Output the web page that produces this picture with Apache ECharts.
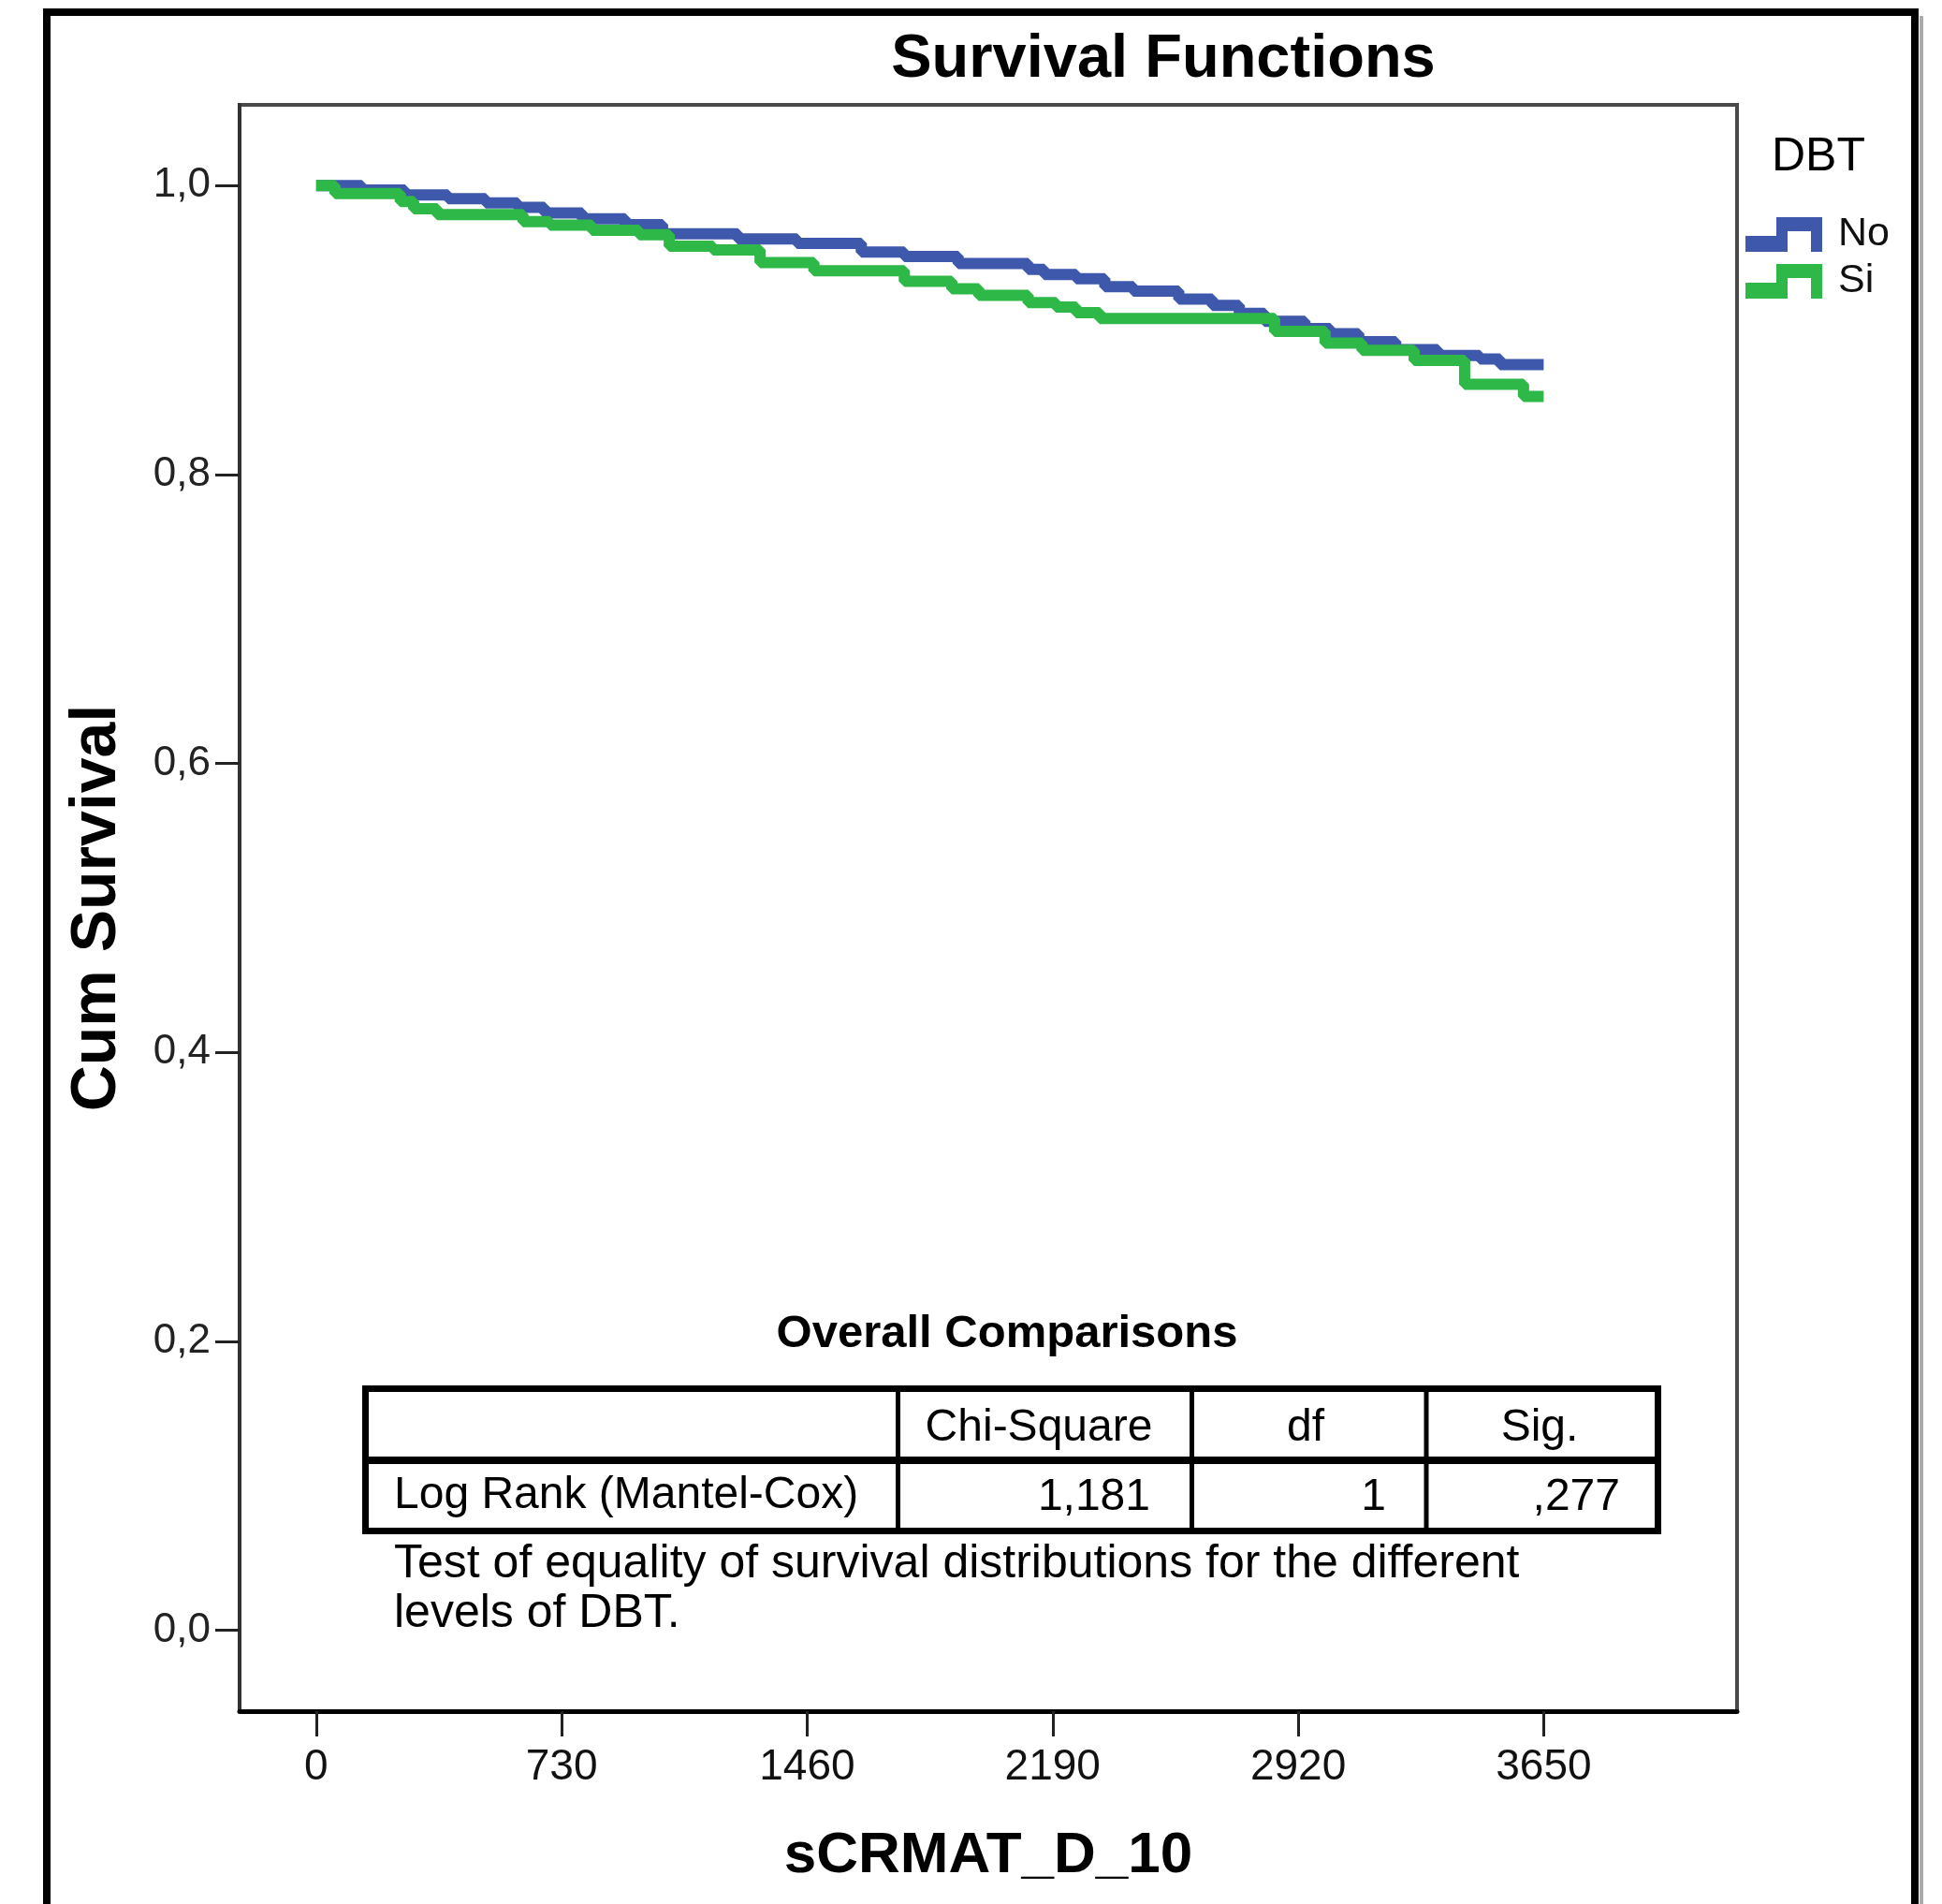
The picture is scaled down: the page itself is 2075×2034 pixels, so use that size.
<!DOCTYPE html>
<html><head><meta charset="utf-8">
<script src="https://cdn.jsdelivr.net/npm/echarts@6/dist/echarts.min.js"></script>
<style>html,body{margin:0;padding:0;background:#fff}#c{width:2075px;height:2034px}</style>
</head><body><div id="c"></div>
<script>
// ---- data ----
const groups = ['No', 'Si'];
const noDays = [0,136,264,392,504,599,679,791,919,1030,1254,1430,1621,1749,1909,2117,2165,2260,2345,2430,2565,2665,2745,2820,2940,3015,3100,3210,3335,3460,3520,3650];
const noSurv = [1.000,0.997,0.9935,0.991,0.988,0.985,0.981,0.977,0.973,0.9666,0.963,0.960,0.954,0.951,0.946,0.942,0.9385,0.9355,0.930,0.927,0.9215,0.917,0.9115,0.906,0.901,0.8975,0.892,0.8865,0.8824,0.880,0.876,0.876];
const siDays = [0,56,250,290,360,615,695,820,960,1050,1180,1320,1480,1749,1890,1970,2117,2200,2260,2330,2850,3000,3110,3265,3415,3590,3650];
const siSurv = [1.000,0.9945,0.989,0.984,0.980,0.975,0.9727,0.969,0.966,0.958,0.9554,0.9467,0.941,0.9338,0.9286,0.924,0.919,0.916,0.912,0.908,0.899,0.891,0.886,0.879,0.8625,0.854,0.854];
const xTicks = [0,730,1460,2190,2920,3650];
const yTicks = [0,0.2,0.4,0.6,0.8,1.0];
const tableHeader = ['Chi-Square','df','Sig.'];
const tableRowLabel = 'Log Rank (Mantel-Cox)';
const tableRow = ['1,181','1',',277'];
const footnote = ['Test of equality of survival distributions for the different','levels of DBT.'];

const FONT = '"Liberation Sans", Arial, sans-serif';
const colors = ['#3E58AC', '#2EB848'];
const legendIcon = 'path://M0,20L33,20L33,0L82,0L82,37L70,37L70,15L45,15L45,37L0,37Z';

function zip(a, b) { return a.map((v, i) => [v, b[i]]); }
function txt(text, x, y, size, align, bold, vAlign) {
  const font = (bold ? 'bold ' : '') + size + 'px ' + FONT;
  return { type: 'text', x: x, y: y, silent: true,
    style: { text: text, font: font, fill: '#000', textAlign: align, align: align,
      textVerticalAlign: vAlign || 'middle', verticalAlign: vAlign || 'middle' } };
}
function hline(x1, x2, y, w) { return { type: 'line', silent: true, shape: { x1: x1, y1: y, x2: x2, y2: y }, style: { stroke: '#000', lineWidth: w } }; }
function vline(x, y1, y2, w) { return { type: 'line', silent: true, shape: { x1: x, y1: y1, x2: x, y2: y2 }, style: { stroke: '#000', lineWidth: w } }; }

const chart = echarts.init(document.getElementById('c'), null, { renderer: 'canvas' });

const tl = 390.5, tr = 1771.5, tt = 1483.5, tb = 1635.5, tmid = 1560;
const cols = [959.5, 1273.5, 1524];
const graphics = [
  { type: 'rect', silent: true, shape: { x: 50, y: 13, width: 1996, height: 2100 }, style: { fill: 'none', stroke: '#000', lineWidth: 8 } },
  { type: 'line', silent: true, shape: { x1: 2053, y1: 17, x2: 2053, y2: 2034 }, style: { stroke: '#aaa', lineWidth: 4 } },
  txt('Survival Functions', 1243, 64, 65, 'center', true),
  txt('DBT', 1893, 168, 50, 'left', false),
  txt('Overall Comparisons', 1076, 1425, 49, 'center', true),
  { type: 'rect', silent: true, shape: { x: tl, y: tt, width: tr - tl, height: tb - tt }, style: { fill: 'none', stroke: '#000', lineWidth: 7 } },
  hline(tl, tr, tmid, 8),
  vline(cols[0], tt, tb, 5), vline(cols[1], tt, tb, 5), vline(cols[2], tt, tb, 5),
  txt(tableHeader[0], 1110, 1526, 48, 'center', false),
  txt(tableHeader[1], 1395, 1526, 48, 'center', false),
  txt(tableHeader[2], 1645, 1526, 48, 'center', false),
  txt(tableRowLabel, 421, 1598, 48, 'left', false),
  txt(tableRow[0], 1229, 1600, 48, 'right', false),
  txt(tableRow[1], 1481, 1600, 48, 'right', false),
  txt(tableRow[2], 1731, 1600, 48, 'right', false),
  txt(footnote[0], 421, 1671, 50, 'left', false),
  txt(footnote[1], 421, 1724, 50, 'left', false)
];

const option = {
  animation: false,
  backgroundColor: '#fff',
  color: colors,
  grid: { left: 256, top: 112, width: 1600, height: 1716, show: true, borderColor: '#4a4a4a', borderWidth: 4, backgroundColor: 'transparent' },
  legend: {
    orient: 'vertical', left: 1865, top: 229, padding: 0,
    itemWidth: 82, itemHeight: 37, itemGap: 7, icon: legendIcon,
    itemStyle: { borderWidth: 0 },
    textStyle: { fontFamily: FONT, fontSize: 43, color: '#111', padding: [0, 0, 0, 12] },
    data: groups
  },
  xAxis: {
    type: 'value', min: -227.7, max: 4225,
    name: 'sCRMAT_D_10', nameLocation: 'middle', nameGap: 124,
    nameTextStyle: { fontFamily: FONT, fontWeight: 'bold', fontSize: 62, color: '#000' },
    axisLine: { onZero: false, lineStyle: { color: '#000', width: 5 } },
    axisTick: { show: true, length: 27, customValues: xTicks, lineStyle: { color: '#222', width: 3 } },
    axisLabel: { customValues: xTicks, margin: 37, fontFamily: FONT, fontSize: 46, color: '#111',
      formatter: v => String(v) },
    splitLine: { show: false }
  },
  yAxis: {
    type: 'value', min: -0.0561, max: 1.0559,
    name: 'Cum Survival', nameLocation: 'middle', nameGap: 118,
    nameTextStyle: { fontFamily: FONT, fontWeight: 'bold', fontSize: 68, color: '#000' },
    axisLine: { onZero: false, lineStyle: { color: '#333', width: 4 } },
    axisTick: { show: true, length: 26, customValues: yTicks, lineStyle: { color: '#222', width: 3 } },
    axisLabel: { customValues: yTicks, margin: 31, fontFamily: FONT, fontSize: 44, color: '#222',
      formatter: v => v.toFixed(1).replace('.', ',') },
    splitLine: { show: false }
  },
  series: [
    { name: groups[0], type: 'line', step: 'end', symbol: 'none', data: zip(noDays, noSurv),
      lineStyle: { width: 12, color: colors[0] }, itemStyle: { color: colors[0] }, z: 3 },
    { name: groups[1], type: 'line', step: 'end', symbol: 'none', data: zip(siDays, siSurv),
      lineStyle: { width: 12, color: colors[1] }, itemStyle: { color: colors[1] }, z: 4 }
  ],
  graphic: graphics
};
chart.setOption(option);
</script></body></html>
